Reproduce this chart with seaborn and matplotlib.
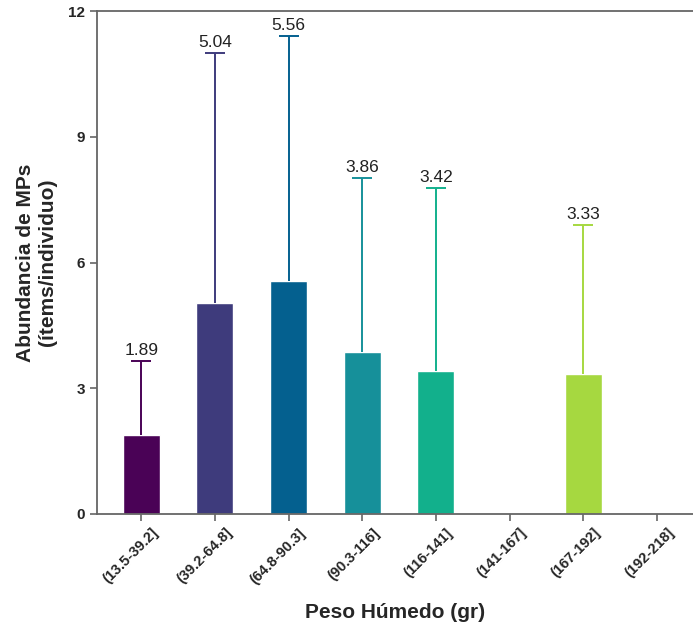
import matplotlib
matplotlib.use("Agg")
import matplotlib.pyplot as plt
import matplotlib.transforms as mtransforms
import seaborn as sns
import numpy as np
import pandas as pd

categories = ["(13.5-39.2]", "(39.2-64.8]", "(64.8-90.3]", "(90.3-116]",
              "(116-141]", "(141-167]", "(167-192]", "(192-218]"]
means = [1.89, 5.04, 5.56, 3.86, 3.42, np.nan, 3.33, np.nan]
sds = [1.76, 5.96, 5.84, 4.16, 4.36, np.nan, 3.57, np.nan]
labels = ["1.89", "5.04", "5.56", "3.86", "3.42", "", "3.33", ""]
colors = ["#4a0256", "#3e3b7c", "#04608f", "#16909a", "#12b08c",
          "#5ec962", "#a6d840", "#c8e020"]
yticks = [0, 3, 6, 9, 12]

sns.set_style("white")
plt.rcParams['font.family'] = ['Liberation Sans', 'DejaVu Sans']

df = pd.DataFrame({"cat": categories, "mean": means})

fig = plt.figure(figsize=(6.93, 6.26), dpi=100)
ax = fig.add_axes([0.14, 0.179, 0.86, 0.803])

sns.barplot(data=df, x="cat", y="mean", hue="cat", palette=colors,
            legend=False, width=0.5, ax=ax, saturation=1, errorbar=None)

for i, (m, s, lab, c) in enumerate(zip(means, sds, labels, colors)):
    if np.isnan(m):
        continue
    _, caps, _ = ax.errorbar(i, m, yerr=[[0], [s]], fmt='none', ecolor=c,
                             elinewidth=1.4, capsize=7, capthick=1.4)
    caps[0].set_visible(False)
    ax.text(i, m + s + 0.08, lab, ha='center', va='bottom', fontsize=12.5,
            color='#222222')

ax.set_ylim(0, 12)
ax.set_xlim(-0.6, 7.49)
ax.set_yticks(yticks)
ax.set_yticklabels([str(t) for t in yticks], fontweight='bold', fontsize=11)
ax.set_xticks(range(len(categories)))
ax.set_xticklabels(categories, rotation=45, ha='right', rotation_mode='anchor',
                   fontweight='bold', fontsize=10.5)
ax.set_xlabel("Peso Húmedo (gr)", fontweight='bold', fontsize=15, labelpad=12)
ax.set_ylabel("Abundancia de MPs\n(ítems/individuo)", fontweight='bold', fontsize=15,
              labelpad=8)

for side in ['left', 'bottom', 'top']:
    ax.spines[side].set_color('#666666')
    ax.spines[side].set_linewidth(1.3)
ax.spines['right'].set_visible(False)
ax.tick_params(axis='both', which='both', length=5, width=1.2, color='#666666',
               left=True, bottom=True)

offset = mtransforms.ScaledTranslation(10 / 100, 0, fig.dpi_scale_trans)
for lbl in ax.xaxis.get_majorticklabels():
    lbl.set_transform(lbl.get_transform() + offset)

fig.savefig("out.png", dpi=100)
